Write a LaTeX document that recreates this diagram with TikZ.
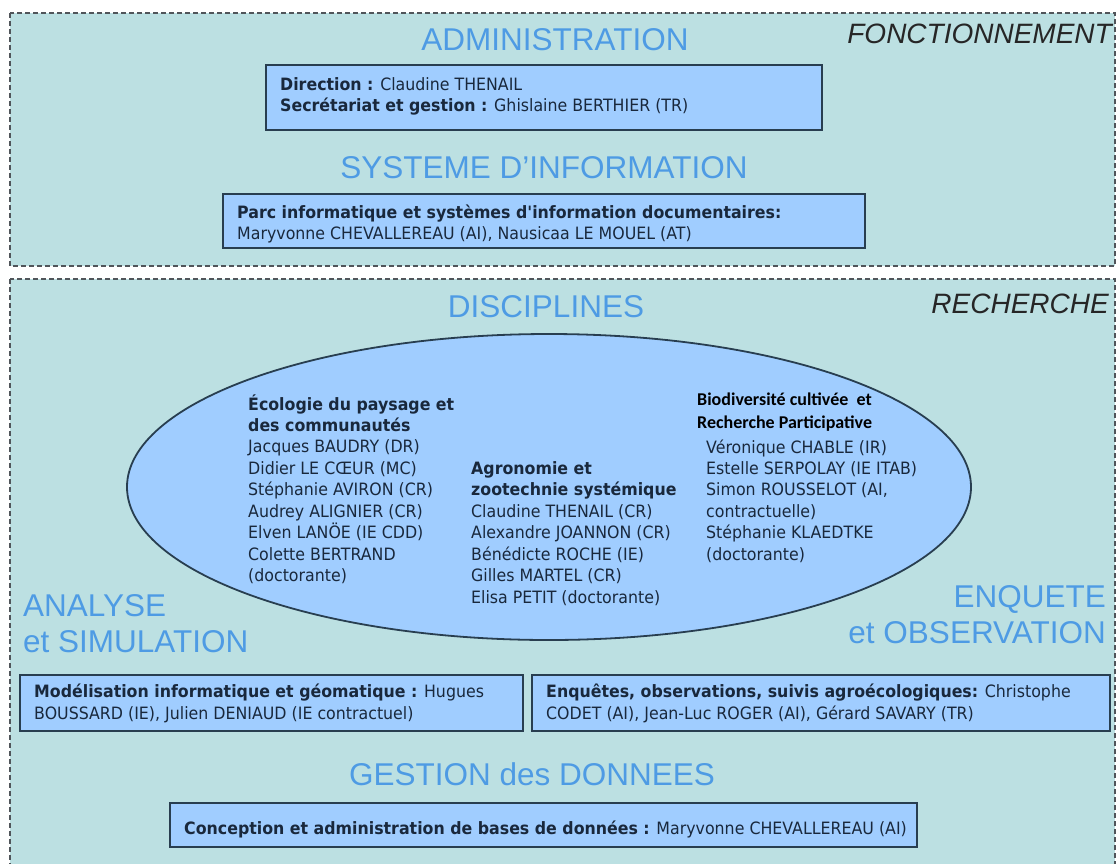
\documentclass[tikz,border=0pt]{standalone}
\usepackage{fontspec}
\setmainfont{Liberation Sans}
\newfontfamily\tah[FakeStretch=0.93]{DejaVu Sans}
\newfontfamily\calib{Carlito}
\usetikzlibrary{shapes.geometric}
\definecolor{panel}{RGB}{188,224,226}
\definecolor{boxfill}{RGB}{160,205,255}
\definecolor{boxline}{RGB}{40,62,80}
\definecolor{titleblue}{RGB}{78,155,228}
\definecolor{dashgray}{RGB}{80,85,90}
\definecolor{txtdark}{RGB}{25,40,60}
\begin{document}
\begin{tikzpicture}[x=1pt,y=-1pt,
  panelbox/.style={draw=dashgray,fill=panel,line width=1.2pt,dash pattern=on 5pt off 3pt},
  infobox/.style={draw=boxline,fill=boxfill,line width=1.6pt},
  title/.style={font=\fontsize{31.5}{34}\selectfont,text=titleblue,inner sep=0pt},
  sidelabel/.style={font=\fontsize{28}{30}\itshape\selectfont,text=black!85,inner sep=0pt,anchor=base east},
  boxtxt/.style={font=\tah\fontsize{17}{21}\selectfont,text=txtdark,inner sep=0pt,anchor=base west},
  elltxt/.style={font=\tah\fontsize{17}{21}\selectfont,text=txtdark,inner sep=0pt,anchor=base west},
  calibtxt/.style={font=\calib\bfseries\fontsize{18}{22}\selectfont,text=black,inner sep=0pt,anchor=base west}]
\useasboundingbox (0,0) rectangle (1120,863);
\fill[white] (0,0) rectangle (1120,863);
% panels
\draw[panelbox] (10,13) rectangle (1115,266);
\draw[panelbox] (10,279) rectangle (1115,868);
% top panel
\node[title,anchor=base] (tadmin) at (555,50) {ADMINISTRATION};
\node[sidelabel] (tfonc) at (1112,43) {FONCTIONNEMENT};
\draw[infobox] (266,65) rectangle (822,130);
\node[boxtxt] (adm1) at (280,90.5) {\textbf{Direction :} Claudine THENAIL};
\node[boxtxt] (adm2) at (280,111.5) {\textbf{Secrétariat et gestion :} Ghislaine BERTHIER (TR)};
\node[title,anchor=base] (tsi) at (544,178) {SYSTEME D’INFORMATION};
\draw[infobox] (223,194) rectangle (865,248);
\node[boxtxt] (si1) at (237,218) {\textbf{Parc informatique et systèmes d'information documentaires:}};
\node[boxtxt] (si2) at (237,239.5) {Maryvonne CHEVALLEREAU (AI), Nausicaa LE MOUEL (AT)};
% bottom panel
\node[title,anchor=base] (tdisc) at (546,317) {DISCIPLINES};
\node[sidelabel] (trech) at (1109,313) {RECHERCHE};
\node[ellipse,draw=boxline,fill=boxfill,line width=1.8pt,minimum width=844pt,minimum height=306pt,inner sep=0pt] (ell) at (549,487) {};
\foreach \t [count=\i] in {{\textbf{Écologie du paysage et}},{\textbf{des communautés}},{Jacques BAUDRY (DR)},{Didier LE CŒUR (MC)},{Stéphanie AVIRON (CR)},{Audrey ALIGNIER (CR)},{Elven LANÖE (IE CDD)},{Colette BERTRAND},{(doctorante)}}
  \node[elltxt] (ca\i) at (248,{410+21.45*(\i-1)}) {\t};
\foreach \t [count=\i] in {{\textbf{Agronomie et}},{\textbf{zootechnie systémique}},{Claudine THENAIL (CR)},{Alexandre JOANNON (CR)},{Bénédicte ROCHE (IE)},{Gilles MARTEL (CR)},{Elisa PETIT (doctorante)}}
  \node[elltxt] (cb\i) at (471,{474.4+21.45*(\i-1)}) {\t};
\node[calibtxt] (cc1) at (697,405) {Biodiversité cultivée~ et};
\node[calibtxt] (cc2) at (697,428) {Recherche Participative};
\foreach \t [count=\i] in {{Véronique CHABLE (IR)},{Estelle SERPOLAY (IE ITAB)},{Simon ROUSSELOT (AI,},{contractuelle)},{Stéphanie KLAEDTKE},{(doctorante)}}
  \node[elltxt] (cc\i x) at (706,{453+21.45*(\i-1)}) {\t};
\node[title,anchor=base west] (tana1) at (23,616) {ANALYSE};
\node[title,anchor=base west] (tana2) at (23,652) {et SIMULATION};
\node[title,anchor=base east] (tenq1) at (1106,607) {ENQUETE};
\node[title,anchor=base east] (tenq2) at (1106,643) {et OBSERVATION};
\draw[infobox] (20,675) rectangle (523,731);
\node[boxtxt] (mod1) at (34,697) {\textbf{Modélisation informatique et géomatique :} Hugues};
\node[boxtxt] (mod2) at (34,719) {BOUSSARD (IE), Julien DENIAUD (IE contractuel)};
\draw[infobox] (532,675) rectangle (1110,731);
\node[boxtxt] (enq1) at (546,697) {\textbf{Enquêtes, observations, suivis agroécologiques:} Christophe};
\node[boxtxt] (enq2) at (546,719) {CODET (AI), Jean-Luc ROGER (AI), Gérard SAVARY (TR)};
\node[title,anchor=base] (tgest) at (532,785) {GESTION des DONNEES};
\draw[infobox] (170,803) rectangle (917,847);
\node[boxtxt] (conc) at (184,834) {\textbf{Conception et administration de bases de données :} Maryvonne CHEVALLEREAU (AI)};
\end{tikzpicture}
\end{document}
